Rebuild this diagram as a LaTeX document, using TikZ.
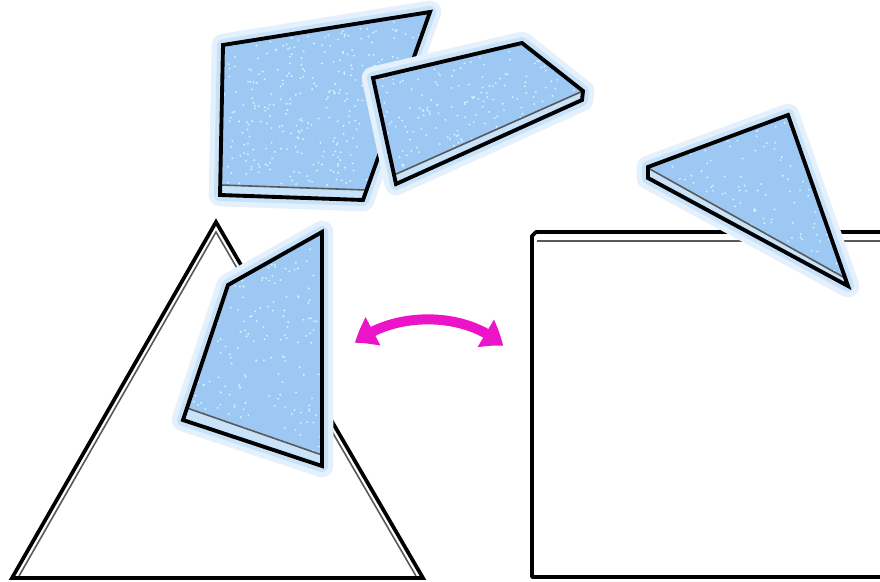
\documentclass[tikz,border=0pt]{standalone}
\usetikzlibrary{arrows.meta,bending}
\definecolor{pblue}{RGB}{158,200,244}
\definecolor{pstrip}{RGB}{200,226,250}
\definecolor{glowout}{RGB}{228,241,253}
\definecolor{glowin}{RGB}{200,226,250}
\definecolor{speckcol}{RGB}{210,244,255}
\definecolor{arrowmag}{RGB}{236,20,200}
\tikzset{
  glowA/.style={draw=glowout, line width=17pt, line join=round},
  glowB/.style={draw=glowin, line width=9pt, line join=round},
  face/.style={fill=pblue},
  stripfill/.style={fill=pstrip},
  foldline/.style={draw=black!65, line width=1.2pt},
  rim/.style={draw=black, line width=2.9pt, line join=miter, miter limit=3},
  speck/.style={fill=speckcol},
  shapeline/.style={draw=black, line width=2.8pt},
  innerline/.style={draw=black!65, line width=1.2pt}
}
\newcommand\speckles[5]{\foreach \k in {1,...,#5}{\pgfmathsetmacro\sx{#1+rnd*#3}\pgfmathsetmacro\sy{#2+rnd*#4}\fill[speck] (\sx,\sy) circle (0.8pt);}}
\begin{document}
\begin{tikzpicture}[x=0.75pt,y=-0.75pt]
\useasboundingbox (0,0) rectangle (880,581);
\clip (0,0) rectangle (880,581);
\pgfmathsetseed{7}

% square (right)
\draw[innerline] (537,241) -- (890,241);
\draw[shapeline, line join=round] (890,232) -- (536,232) -- (532,236) -- (532,577) -- (890,577);

% big triangle (left)
\draw[innerline] (19,576) -- (216,232) -- (416,576);
\draw[shapeline, line join=miter] (12,578) -- (216,222) -- (423,578) -- cycle;

% piece 4 (on the triangle)
\path[glowA] (322,232) -- (322,466) -- (183,420) -- (228,285) -- cycle;
\path[glowB] (322,232) -- (322,466) -- (183,420) -- (228,285) -- cycle;
\fill[face] (322,232) -- (322,455) -- (187,408) -- (228,285) -- cycle;
\fill[stripfill] (187,408) -- (322,455) -- (322,466) -- (183,420) -- cycle;
\begin{scope}
\clip (322,232) -- (322,455) -- (187,408) -- (228,285) -- cycle;
\speckles{180}{230}{145}{230}{260}
\end{scope}
\draw[foldline] (187,408) -- (322,455);
\draw[rim] (322,232) -- (322,466) -- (183,420) -- (228,285) -- cycle;

% piece 1 (top left)
\path[glowA] (223,45) -- (430,12) -- (363,200) -- (220,195) -- cycle;
\path[glowB] (223,45) -- (430,12) -- (363,200) -- (220,195) -- cycle;
\fill[face] (223,45) -- (430,12) -- (366,190) -- (221,185) -- cycle;
\fill[stripfill] (221,185) -- (366,190) -- (363,200) -- (220,195) -- cycle;
\begin{scope}
\clip (223,45) -- (430,12) -- (366,190) -- (221,185) -- cycle;
\speckles{218}{10}{215}{185}{420}
\end{scope}
\draw[foldline] (221,185) -- (366,190);
\draw[rim] (223,45) -- (430,12) -- (363,200) -- (220,195) -- cycle;

% piece 2 (top middle)
\path[glowA] (373,78) -- (522,43) -- (583,91) -- (582,100) -- (396,184) -- cycle;
\path[glowB] (373,78) -- (522,43) -- (583,91) -- (582,100) -- (396,184) -- cycle;
\fill[face] (373,78) -- (522,43) -- (583,91) -- (394,175) -- cycle;
\fill[stripfill] (583,91) -- (582,100) -- (396,184) -- (394,175) -- cycle;
\begin{scope}
\clip (373,78) -- (522,43) -- (583,91) -- (394,175) -- cycle;
\speckles{370}{40}{215}{140}{300}
\end{scope}
\draw[foldline] (583,91) -- (394,175);
\draw[rim] (373,78) -- (522,43) -- (583,91) -- (582,100) -- (396,184) -- cycle;

% piece 3 (right triangle)
\path[glowA] (788,115) -- (848,286) -- (648,178) -- (648,167) -- cycle;
\path[glowB] (788,115) -- (848,286) -- (648,178) -- (648,167) -- cycle;
\fill[face] (788,115) -- (845,278) -- (648,167) -- cycle;
\fill[stripfill] (648,167) -- (845,278) -- (848,286) -- (648,178) -- cycle;
\begin{scope}
\clip (788,115) -- (845,278) -- (648,167) -- cycle;
\speckles{645}{112}{205}{170}{210}
\end{scope}
\draw[foldline] (648,168) -- (845,278);
\draw[rim] (788,115) -- (848,286) -- (648,178) -- (648,167) -- cycle;

% magenta double arrow
\coordinate (arrL) at (355,343);
\coordinate (arrR) at (503,346);
\draw[arrowmag, line width=7.5pt, {Triangle[width=23pt,length=16pt,bend]}-{Triangle[width=23pt,length=16pt,bend]}]
  (arrL) .. controls (393,311) and (467,311) .. (arrR);
\end{tikzpicture}
\end{document}
